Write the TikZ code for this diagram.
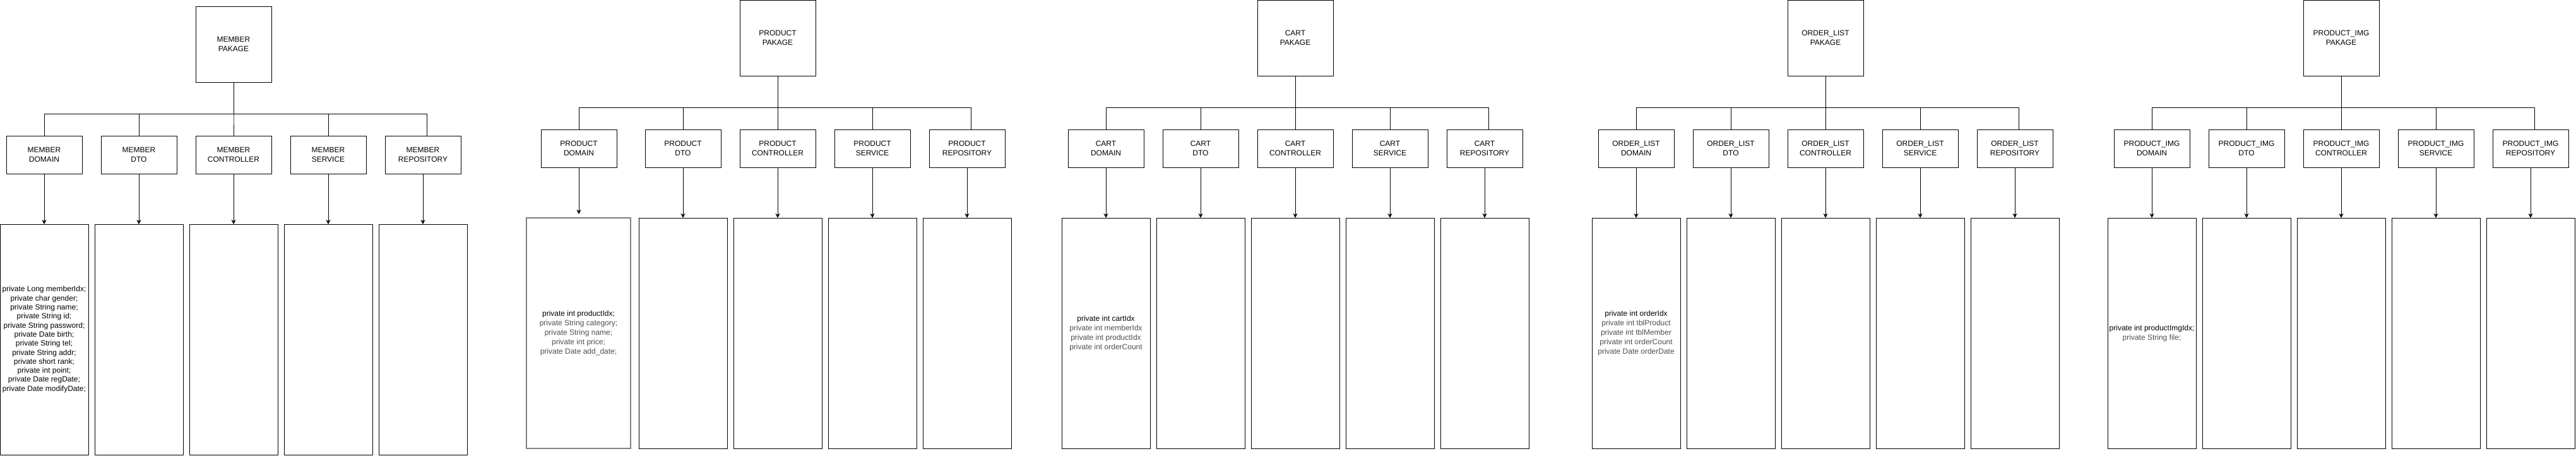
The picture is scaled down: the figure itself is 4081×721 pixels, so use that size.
\documentclass[tikz,border=0pt]{standalone}
\usepackage{fontspec}
\setmainfont{Liberation Sans}
\usetikzlibrary{arrows.meta}
\definecolor{txtgray}{HTML}{4D4D4D}
\definecolor{bordergray}{HTML}{808080}
\tikzset{
  basebox/.style={draw=black, line width=1pt, rectangle, inner sep=0pt, outer sep=0pt, align=center, font=\fontsize{12}{15}\selectfont},
  pkgbox/.style={basebox, minimum width=120pt, minimum height=120pt},
  smallbox/.style={basebox, minimum width=120pt, minimum height=60pt},
  classbox/.style={basebox, minimum width=140pt, minimum height=365pt},
  link/.style={draw=black, line width=1pt},
  arrowlink/.style={link, -{Stealth[length=7pt,width=7pt,inset=2pt]}},
}
% #1 prefix, #2 label, #3 shift, #4 domain x, #5 domain class options, #6 domain class x, #7 content, #8 arrow options
\newcommand{\pkggroup}[8]{%
\begin{scope}[shift={#3}]
 \node[pkgbox] (#1pk) at (370,60) {#2\\PAKAGE};
 \node[smallbox] (#1dom) at (#4,235) {#2\\DOMAIN};
 \node[smallbox] (#1dto) at (220,235) {#2\\DTO};
 \node[smallbox] (#1ctl) at (370,235) {#2\\CONTROLLER};
 \node[smallbox] (#1svc) at (520,235) {#2\\SERVICE};
 \node[smallbox] (#1rep) at (670,235) {#2\\REPOSITORY};
 \node[classbox,#5] (#1cdom) at (#6,527.5) {#7};
 \node[classbox] (#1cdto) at (220,527.5) {};
 \node[classbox] (#1cctl) at (370,527.5) {};
 \node[classbox] (#1csvc) at (520,527.5) {};
 \node[classbox] (#1crep) at (670,527.5) {};
 \draw[link] (#1pk.south) -- ++(0,50) -| (#1dom.north);
 \draw[link] (#1pk.south) -- ++(0,50) -| (#1dto.north);
 \draw[link] (#1pk.south) -- ++(0,50) -| (#1ctl.north);
 \draw[link] (#1pk.south) -- ++(0,50) -| (#1svc.north);
 \draw[link] (#1pk.south) -- ++(0,50) -| ([xshift=6pt]#1rep.north);
 \draw[arrowlink,#8] (#1dom.south) -- (#1dom.south |- #1cdom.north);
 \draw[arrowlink] (#1dto.south) -- (#1cdto.north);
 \draw[arrowlink] (#1ctl.south) -- (#1cctl.north);
 \draw[arrowlink] (#1svc.south) -- (#1csvc.north);
 \draw[arrowlink] (#1rep.south) -- (#1crep.north);
\end{scope}}
\begin{document}
\begin{tikzpicture}[x=1pt,y=-1pt]
\useasboundingbox (0,0) rectangle (4081,721);
\pkggroup{M}{MEMBER}{(0,10)}{70}{font=\fontsize{12}{14.3}\selectfont}{70}{%
private Long memberIdx;\\private char gender;\\private String name;\\private String id;\\private String password;\\private Date birth;\\private String tel;\\private String addr;\\private short rank;\\private int point;\\private Date regDate;\\private Date modifyDate;}{}
\pkggroup{P}{PRODUCT}{(862,0)}{55}{minimum width=165pt, draw=bordergray, line width=1.3pt}{54.5}{%
private int productIdx;\\\textcolor{txtgray}{private String category;}\\\textcolor{txtgray}{private String name;}\\\textcolor{txtgray}{private int price;}\\\textcolor{txtgray}{private Date add\_date;}}{shorten >=6pt}
\pkggroup{C}{CART}{(1682,0)}{70}{}{70}{%
private int cartIdx\\\textcolor{txtgray}{private int memberIdx}\\\textcolor{txtgray}{private int productIdx}\\\textcolor{txtgray}{private int orderCount}}{}
\pkggroup{O}{ORDER\_LIST}{(2522,0)}{70}{}{70}{%
private int orderIdx\\\textcolor{txtgray}{private int tblProduct}\\\textcolor{txtgray}{private int tblMember}\\\textcolor{txtgray}{private int orderCount}\\\textcolor{txtgray}{private Date orderDate}}{}
\pkggroup{I}{PRODUCT\_IMG}{(3339,0)}{70}{}{70}{%
private int productImgIdx;\\\textcolor{txtgray}{private String file;}}{}
\end{tikzpicture}
\end{document}
